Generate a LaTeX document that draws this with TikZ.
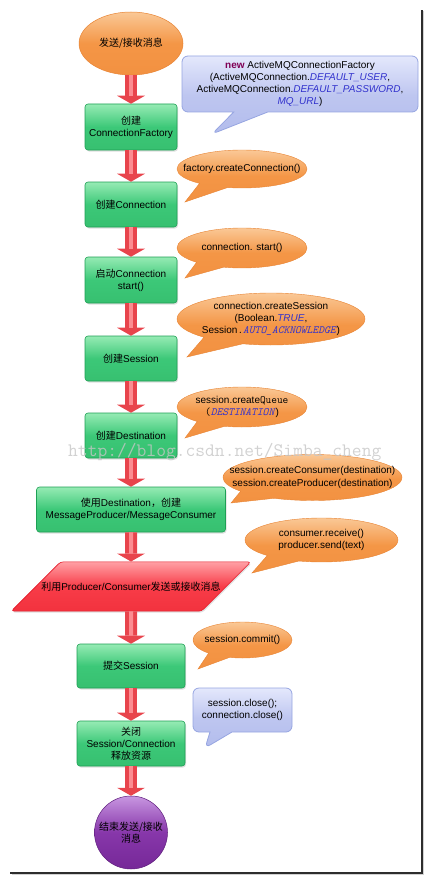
\documentclass[tikz,border=0pt]{standalone}
\usepackage{fontspec}
\setmainfont{Liberation Sans}
\newfontfamily\cjk{Noto Sans CJK SC}
\usetikzlibrary{shapes.geometric,shapes.callouts,arrows.meta,shadows}
\newcommand{\zh}[1]{{\cjk #1}}
\definecolor{grnT}{RGB}{150,235,180}
\definecolor{grnM}{RGB}{60,200,120}
\definecolor{grnB}{RGB}{55,192,112}
\definecolor{grnD}{RGB}{30,160,85}
\definecolor{orT}{RGB}{250,200,150}
\definecolor{orM}{RGB}{244,150,70}
\definecolor{orB}{RGB}{242,145,65}
\definecolor{orD}{RGB}{232,132,52}
\definecolor{bluT}{RGB}{228,232,252}
\definecolor{bluM}{RGB}{190,198,240}
\definecolor{bluB}{RGB}{178,188,236}
\definecolor{bluD}{RGB}{150,165,225}
\definecolor{redT}{RGB}{255,160,165}
\definecolor{redM}{RGB}{248,60,72}
\definecolor{redB}{RGB}{242,50,62}
\definecolor{redD}{RGB}{228,25,40}
\definecolor{arrR}{RGB}{232,68,76}
\definecolor{arrL}{RGB}{252,140,145}
\definecolor{purT}{RGB}{200,150,225}
\definecolor{purM}{RGB}{135,55,170}
\definecolor{purB}{RGB}{118,40,152}
\definecolor{purD}{RGB}{95,30,125}
\definecolor{kw}{RGB}{127,0,85}
\definecolor{fld}{RGB}{50,50,205}
\newcommand{\fl}[1]{\textcolor{fld}{\textit{#1}}}
\newcommand{\mono}[1]{{\fontsize{11}{12.2}\ttfamily #1}}
\begin{document}
\begin{tikzpicture}[x=1pt,y=-1pt,
  every node/.style={font=\fontsize{10}{12.2}\selectfont, align=center, inner sep=0pt},
  stepbox/.style={rectangle, rounded corners=3pt, draw=grnD, line width=0.6pt,
    top color=grnT, bottom color=grnB, middle color=grnM,
    drop shadow={opacity=0.25,shadow xshift=1pt,shadow yshift=-1.5pt}},
  startnode/.style={ellipse, draw=orD, line width=0.5pt, top color=orT, bottom color=orB, middle color=orM},
  endnode/.style={circle, draw=purD, line width=0.5pt, top color=purT, bottom color=purB, middle color=purM},
  ionode/.style={trapezium, trapezium left angle=45, trapezium right angle=135,
    text width=180pt, inner xsep=-19.5pt, inner ysep=20pt,
    rounded corners=3pt, draw=redD, line width=0.6pt,
    top color=redT, bottom color=redB, middle color=redM,
    drop shadow={opacity=0.25,shadow xshift=1pt,shadow yshift=-1.5pt}},
  orcall/.style={ellipse callout, callout pointer arc=28, inner xsep=-25pt, inner ysep=-10pt,
    draw=orD, line width=0.4pt, top color=orT, bottom color=orB, middle color=orM},
  blcall/.style={rectangle callout, rounded corners=6pt, inner sep=3pt,
    draw=bluD, line width=0.8pt, top color=bluT, bottom color=bluB, middle color=bluM},
  blockarr/.style={draw=arrR, line width=12pt, -{Triangle[width=28pt,length=8pt,line width=0pt]},
    postaction={draw=arrL, line width=4pt, -, shorten >=8pt}},
]
\useasboundingbox (0,0) rectangle (437,880);
% frame
\draw[line width=1.6pt, draw=gray!35, line cap=butt] (11.5,874.5) -- (423.5,874.5) -- (423.5,11.5);
\draw[line width=1.3pt, draw=gray!35!black] (10,873) -- (422,873) -- (422,10);

% main flow
\node[startnode, minimum width=104pt, minimum height=63pt] (start) at (131,43.5) {\zh{发送/接收消息}};
\node[stepbox, minimum width=92pt, minimum height=46pt] (b1) at (131,127) {\zh{创建}\\ConnectionFactory};
\node[stepbox, minimum width=92pt, minimum height=45pt] (b2) at (131,204.5) {\zh{创建}Connection};
\node[stepbox, minimum width=92pt, minimum height=46pt] (b3) at (131,280) {\zh{启动}Connection\\start()};
\node[stepbox, minimum width=92pt, minimum height=45pt] (b4) at (131,358.5) {\zh{创建}Session};
\node[stepbox, minimum width=92pt, minimum height=45pt] (b5) at (131,435.5) {\zh{创建}Destination};
\node[stepbox, minimum width=189pt, minimum height=45pt] (b6) at (131,509.5) {\zh{使用}Destination\zh{，创建}\\MessageProducer/MessageConsumer};
\node[ionode] (io) at (131,586.5) {\zh{利用}Producer/Consumer\zh{发送或接收消息}};
\node[stepbox, minimum width=108pt, minimum height=44pt] (b7) at (131,666) {\zh{提交}Session};
\node[stepbox, minimum width=108pt, minimum height=45pt] (b8) at (131,743.5) {\zh{关闭}\\Session/Connection\\\zh{释放资源}};
\node[endnode, minimum size=73pt] (end) at (131,832.5) {\zh{结束发送/接收}\\\zh{消息}};

% connectors
\draw[blockarr] (start.south) -- (b1.north);
\draw[blockarr] (b1.south) -- (b2.north);
\draw[blockarr] (b2.south) -- (b3.north);
\draw[blockarr] (b3.south) -- (b4.north);
\draw[blockarr] (b4.south) -- (b5.north);
\draw[blockarr] (b5.south) -- (b6.north);
\draw[blockarr] (b6.south) -- (io.north);
\draw[blockarr] (io.south) -- (b7.north);
\draw[blockarr] (b7.south) -- (b8.north);
\draw[blockarr] (b8.south) -- (end.north);

% callouts
\node[blcall, minimum width=236pt, minimum height=56pt, callout pointer width=34pt,
  callout absolute pointer={(212,134)}] (c1) at (300,84)
  {\textcolor{kw}{\textbf{new}} ActiveMQConnectionFactory\\(ActiveMQConnection.\fl{DEFAULT\_USER},\\ActiveMQConnection.\fl{DEFAULT\_PASSWORD},\\\fl{MQ\_URL})};
\node[orcall, minimum width=130pt, minimum height=38pt,
  callout absolute pointer={(185,202)}] (c2) at (242,169) {factory.createConnection()};
\node[orcall, minimum width=130pt, minimum height=40pt,
  callout absolute pointer={(185,278)}] (c3) at (242,248) {connection. start()};
\node[orcall, minimum width=188pt, minimum height=52pt,
  callout absolute pointer={(187,357)}] (c4) at (271,319)
  {connection.createSession\\(Boolean.\fl{TRUE},\\Session\mono{.\fl{AUTO\_ACKNOWLEDGE}})};
\node[orcall, minimum width=130pt, minimum height=40pt,
  callout absolute pointer={(185,438)}] (c5) at (242,407)
  {session.create\mono{Queue}\\\mono{(\fl{DESTINATION}})};
\node[orcall, minimum width=179pt, minimum height=46pt,
  callout absolute pointer={(231,503)}] (c6) at (312.5,477.5)
  {session.createConsumer(destination)\\session.createProducer(destination)};
\node[orcall, minimum width=153pt, minimum height=44pt,
  callout absolute pointer={(252,573)}] (c7) at (321.5,540)
  {consumer.receive()\\producer.send(text)};
\node[orcall, minimum width=99pt, minimum height=36pt,
  callout absolute pointer={(198,669)}] (c8) at (242.5,640) {session.commit()};
\node[blcall, minimum width=99pt, minimum height=44pt, callout pointer width=22pt,
  callout absolute pointer={(205,748)}] (c9) at (242.5,710)
  {session.close();\\connection.close()};

% watermark
\node[anchor=base west, font=\fontsize{19}{20}\ttfamily, text=gray!45, opacity=0.8] (wm) at (68,456) {http://blog.csdn.net/Simba\_cheng};
\end{tikzpicture}
\end{document}
